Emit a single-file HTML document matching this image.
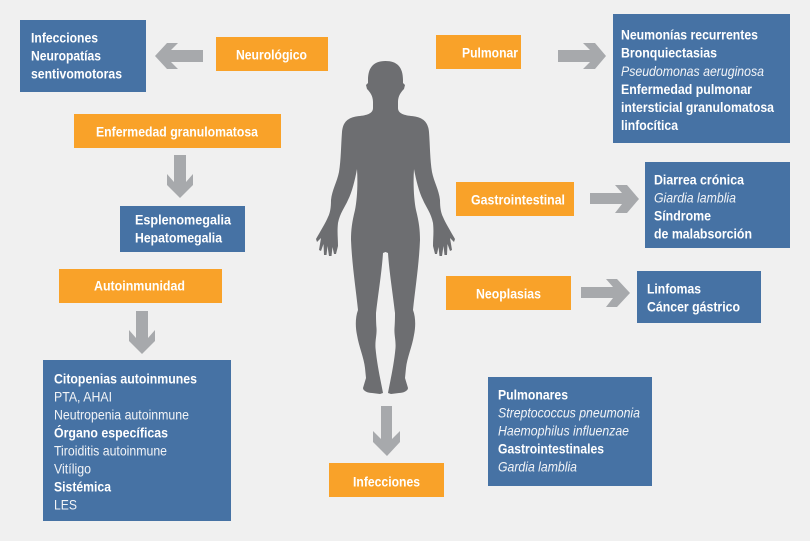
<!DOCTYPE html>
<html lang="es">
<head>
<meta charset="utf-8">
<title>Diagrama</title>
<style>
html,body{margin:0;padding:0;background:#f0f0f0;}
svg{display:block;}
text{font-family:"Liberation Sans",sans-serif;font-size:13.6px;fill:#fff;}
.b{font-weight:bold;}
.i{font-style:italic;}
.r{fill:#f2f4f7;}
.o{fill:#F9A229;}
.l{fill:#4672A4;}
.a{fill:#A7A9AC;}
</style>
</head>
<body>
<svg width="810" height="541" viewBox="0 0 810 541" xmlns="http://www.w3.org/2000/svg">
<rect width="810" height="541" fill="#f0f0f0"/>

<path fill="#6D6E71" d="M385.5 61 C374 61 368 67 368 80 L368 83 L366 85 L367 89 C370 92 373 96 373 102 L373 108 C373 113 368 115 360 116 C350 117 343 120 342 132 C341 145 341 160 339 172 C337 182 332 190 331 200 C331 208 330 213 328 217 C326 222 320 232 316 239 L317 242 L321 238 L319 250 L321 251 L323.500 244 L324 255 L326.500 255 L327.500 246 L329 256 L331.500 256 L332.500 247 L334 254 L336 254 L338 246 C338 238 337 232 338 223 C340 213 345 207 348 200 C352 192 355 180 357 169 C358 185 357 200 355 210 C352 222 351 230 351 240 C352 265 356 290 358 310 C355 318 355.500 328 357 335 C359 347 364 358 365 368 L366 378 L363 388 C363 391 368 393 372 393 L380 394 L383 393 C381 382 377 365 375.500 348 C375 340 377 335 376.500 328 C376 322 376 316 376 313 C378 295 382 270 383 253 L385.500 252 L388 253 C389 270 393 295 395 313 C395 316 395 322 394.500 328 C394 335 396 340 395.500 348 C394 365 390 382 388 393 L391 394 L399 393 C403 393 408 391 408 388 L405 378 L406 368 C407 358 412 347 414 335 C415.500 328 416 318 413 310 C415 290 419 265 420 240 C420 230 419 222 416 210 C414 200 413 185 414 169 C416 180 419 192 423 200 C426 207 431 213 433 223 C434 232 433 238 433 246 L435 254 L437 254 L438.500 247 L439.500 256 L442 256 L443.500 246 L444.500 255 L447 255 L447.500 244 L450 251 L452 250 L450 238 L454 242 L455 239 C451 232 445 222 443 217 C441 213 440 208 440 200 C439 190 434 182 432 172 C430 160 430 145 429 132 C428 120 421 117 411 116 C403 115 398 113 398 108 L398 102 C398 96 401 92 404 89 L405 85 L403 83 L403 80 C403 67 397 61 385.500 61 Z"/>

<!-- arrows -->
<polygon class="a" points="203,50 171,50 178,43 167,43 155,56 167,69 178,69 171,62 203,62"/>
<polygon class="a" points="174,155 186,155 186,182 193,174 193,185 180,198 167,185 167,174 174,182"/>
<polygon class="a" points="136,311 148,311 148,338 155,330 155,341 142,354 129,341 129,330 136,338"/>
<polygon class="a" points="558,50 590,50 583,43 595,43 606,56 595,69 583,69 590,62 558,62"/>
<polygon class="a" points="590,193 622,193 615,185 627,185 639,199 627,213 615,213 622,204 590,204"/>
<polygon class="a" points="581,287 613,287 606,279 617,279 630,293 617,307 606,307 613,298 581,298"/>
<polygon class="a" points="381,406 392,406 392,439 400,431 400,442 387,456 373,442 373,431 381,439"/>

<!-- blue boxes -->
<rect class="l" x="20" y="20" width="126" height="72"/>
<rect class="l" x="120" y="206" width="125" height="46"/>
<rect class="l" x="43" y="360" width="188" height="161"/>
<rect class="l" x="613" y="14" width="177" height="129"/>
<rect class="l" x="645" y="162" width="145" height="86"/>
<rect class="l" x="637" y="271" width="124" height="52"/>
<rect class="l" x="488" y="377" width="164" height="109"/>

<!-- orange boxes -->
<rect class="o" x="216" y="37" width="112" height="34"/>
<rect class="o" x="74" y="114" width="207" height="34"/>
<rect class="o" x="59" y="269" width="163" height="34"/>
<rect class="o" x="436" y="35" width="85" height="34"/>
<rect class="o" x="456" y="182" width="118" height="34"/>
<rect class="o" x="446" y="276" width="125" height="34"/>
<rect class="o" x="329" y="463" width="115" height="34"/>

<g transform="translate(0 .5)">
<!-- orange labels -->
<text class="b" x="236" y="59" textLength="71" lengthAdjust="spacingAndGlyphs">Neurológico</text>
<text class="b" x="96" y="136" textLength="162" lengthAdjust="spacingAndGlyphs">Enfermedad granulomatosa</text>
<text class="b" x="94" y="290" textLength="91" lengthAdjust="spacingAndGlyphs">Autoinmunidad</text>
<text class="b" x="462" y="57" textLength="56" lengthAdjust="spacingAndGlyphs">Pulmonar</text>
<text class="b" x="471" y="204" textLength="94" lengthAdjust="spacingAndGlyphs">Gastrointestinal</text>
<text class="b" x="476" y="298" textLength="65" lengthAdjust="spacingAndGlyphs">Neoplasias</text>
<text class="b" x="353" y="486" textLength="67" lengthAdjust="spacingAndGlyphs">Infecciones</text>

<!-- blue labels -->
<text class="b" x="31" y="42" textLength="67" lengthAdjust="spacingAndGlyphs">Infecciones</text>
<text class="b" x="31" y="60" textLength="70" lengthAdjust="spacingAndGlyphs">Neuropatías</text>
<text class="b" x="31" y="78" textLength="91" lengthAdjust="spacingAndGlyphs">sentivomotoras</text>

<text class="b" x="135" y="224" textLength="96" lengthAdjust="spacingAndGlyphs">Esplenomegalia</text>
<text class="b" x="135" y="242" textLength="87" lengthAdjust="spacingAndGlyphs">Hepatomegalia</text>

<text class="b" x="54" y="383" textLength="143" lengthAdjust="spacingAndGlyphs">Citopenias autoinmunes</text>
<text class="r" x="54" y="401" textLength="58" lengthAdjust="spacingAndGlyphs">PTA, AHAI</text>
<text class="r" x="54" y="419" textLength="135" lengthAdjust="spacingAndGlyphs">Neutropenia autoinmune</text>
<text class="b" x="54" y="437" textLength="114" lengthAdjust="spacingAndGlyphs">Órgano específicas</text>
<text class="r" x="54" y="455" textLength="113" lengthAdjust="spacingAndGlyphs">Tiroiditis autoinmune</text>
<text class="r" x="54" y="473" textLength="37" lengthAdjust="spacingAndGlyphs">Vitíligo</text>
<text class="b" x="54" y="491" textLength="57" lengthAdjust="spacingAndGlyphs">Sistémica</text>
<text class="r" x="54" y="509" textLength="23" lengthAdjust="spacingAndGlyphs">LES</text>

<text class="b" x="621" y="39" textLength="137" lengthAdjust="spacingAndGlyphs">Neumonías recurrentes</text>
<text class="b" x="621" y="57" textLength="96" lengthAdjust="spacingAndGlyphs">Bronquiectasias</text>
<text class="i r" x="621" y="75.500" textLength="143" lengthAdjust="spacingAndGlyphs">Pseudomonas aeruginosa</text>
<text class="b" x="621" y="93.500" textLength="131" lengthAdjust="spacingAndGlyphs">Enfermedad pulmonar</text>
<text class="b" x="621" y="111.500" textLength="153" lengthAdjust="spacingAndGlyphs">intersticial granulomatosa</text>
<text class="b" x="621" y="129.500" textLength="57" lengthAdjust="spacingAndGlyphs">linfocítica</text>

<text class="b" x="654" y="184" textLength="90" lengthAdjust="spacingAndGlyphs">Diarrea crónica</text>
<text class="i r" x="654" y="202" textLength="82" lengthAdjust="spacingAndGlyphs">Giardia lamblia</text>
<text class="b" x="654" y="220" textLength="57" lengthAdjust="spacingAndGlyphs">Síndrome</text>
<text class="b" x="654" y="238" textLength="98" lengthAdjust="spacingAndGlyphs">de malabsorción</text>

<text class="b" x="647" y="293" textLength="54" lengthAdjust="spacingAndGlyphs">Linfomas</text>
<text class="b" x="647" y="311" textLength="93" lengthAdjust="spacingAndGlyphs">Cáncer gástrico</text>

<text class="b" x="498" y="399" textLength="70" lengthAdjust="spacingAndGlyphs">Pulmonares</text>
<text class="i r" x="498" y="417" textLength="142" lengthAdjust="spacingAndGlyphs">Streptococcus pneumonia</text>
<text class="i r" x="498" y="435" textLength="131" lengthAdjust="spacingAndGlyphs">Haemophilus influenzae</text>
<text class="b" x="498" y="453" textLength="106" lengthAdjust="spacingAndGlyphs">Gastrointestinales</text>
<text class="i r" x="498" y="471" textLength="79" lengthAdjust="spacingAndGlyphs">Gardia lamblia</text>
</g>
</svg>
</body>
</html>
